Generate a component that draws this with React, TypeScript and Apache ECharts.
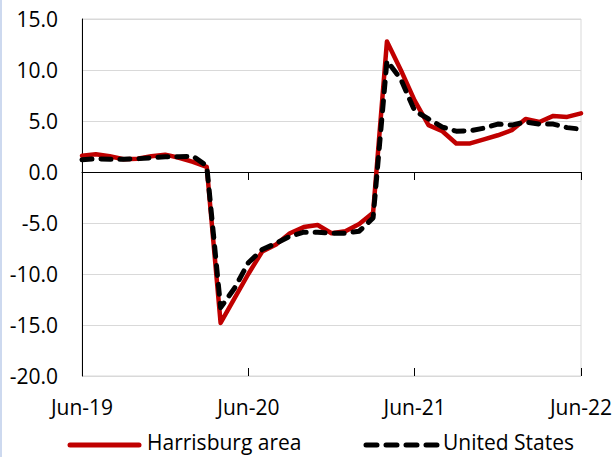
import React, { useEffect, useRef } from "react";
import * as echarts from "echarts";

const months: string[] = [
  "Jun-19", "Jul-19", "Aug-19", "Sep-19", "Oct-19", "Nov-19", "Dec-19",
  "Jan-20", "Feb-20", "Mar-20", "Apr-20", "May-20", "Jun-20", "Jul-20",
  "Aug-20", "Sep-20", "Oct-20", "Nov-20", "Dec-20", "Jan-21", "Feb-21",
  "Mar-21", "Apr-21", "May-21", "Jun-21", "Jul-21", "Aug-21", "Sep-21",
  "Oct-21", "Nov-21", "Dec-21", "Jan-22", "Feb-22", "Mar-22", "Apr-22",
  "May-22", "Jun-22",
];

const harrisburg: number[] = [
  1.6, 1.75, 1.55, 1.25, 1.3, 1.55, 1.7, 1.4, 1.0, 0.5,
  -14.8, -12.4, -10.0, -7.8, -7.1, -6.0, -5.4, -5.2, -6.0, -5.8,
  -5.1, -4.0, 12.8, 10.0, 7.0, 4.6, 4.0, 2.8, 2.8, 3.2,
  3.6, 4.1, 5.2, 4.9, 5.5, 5.4, 5.75,
];

const unitedStates: number[] = [
  1.2, 1.3, 1.25, 1.25, 1.3, 1.4, 1.5, 1.5, 1.55, 0.6,
  -13.3, -11.4, -8.9, -7.6, -7.0, -6.3, -5.9, -5.9, -6.0, -6.0,
  -5.8, -4.5, 10.9, 9.1, 6.0, 5.2, 4.4, 4.0, 4.05, 4.3,
  4.7, 4.6, 4.9, 4.7, 4.7, 4.35, 4.2,
];

const seriesNames: string[] = ["Harrisburg area", "United States"];

const FONT = "'Open Sans', 'Noto Sans', sans-serif";

export default function App() {
  const ref = useRef<HTMLDivElement>(null);

  useEffect(() => {
    if (!ref.current) return;
    const chart = echarts.init(ref.current, undefined, { renderer: "svg" });
    const baseCat = {
      type: "category" as const,
      data: months,
      boundaryGap: false,
      splitLine: { show: false },
    };
    chart.setOption({
      animation: false,
      backgroundColor: "#ffffff",
      grid: {
        left: 82,
        right: 35,
        top: 19,
        bottom: 81,
        show: true,
        borderColor: "#d9d9d9",
        borderWidth: 1,
        backgroundColor: "transparent",
      },
      xAxis: [
        {
          ...baseCat,
          position: "bottom",
          axisLine: { show: true, onZero: true, lineStyle: { color: "#000", width: 1 } },
          axisTick: { show: true, interval: 11, length: 8, lineStyle: { color: "#000", width: 1 } },
          axisLabel: { show: false },
        },
        {
          ...baseCat,
          position: "bottom",
          axisLine: { show: false, onZero: true },
          axisTick: { show: true, inside: true, interval: 11, length: 8, lineStyle: { color: "#000", width: 1 } },
          axisLabel: { show: false },
        },
        {
          ...baseCat,
          position: "bottom",
          axisLine: { show: false, onZero: false },
          axisTick: { show: false },
          axisLabel: {
            show: true,
            interval: 11,
            margin: 20,
            fontSize: 21,
            fontFamily: FONT,
            color: "#000",
          },
        },
      ],
      yAxis: {
        type: "value",
        min: -20,
        max: 15,
        interval: 5,
        axisLine: { show: true, lineStyle: { color: "#000", width: 1 } },
        axisTick: { show: false },
        splitLine: { show: true, lineStyle: { color: "#d9d9d9", width: 1 } },
        axisLabel: {
          margin: 24,
          fontSize: 21,
          fontFamily: FONT,
          color: "#000",
          formatter: (v: number) => v.toFixed(1),
        },
      },
      series: [
        {
          name: seriesNames[0],
          type: "line",
          xAxisIndex: 0,
          data: harrisburg,
          symbol: "none",
          lineStyle: { color: "#c00000", width: 4.5, cap: "round", join: "round" },
          z: 2,
        },
        {
          name: seriesNames[1],
          type: "line",
          xAxisIndex: 0,
          data: unitedStates,
          symbol: "none",
          lineStyle: {
            color: "#000000",
            width: 5,
            type: [10, 9],
            cap: "round",
            join: "round",
          },
          z: 3,
        },
      ],
      graphic: [
        {
          type: "rect",
          shape: { x: 0, y: 0, width: 2, height: 457 },
          style: { fill: "#cdd9ef" },
          silent: true,
        },
        {
          type: "line",
          shape: { x1: 70, y1: 445, x2: 139, y2: 445 },
          style: { stroke: "#c00000", lineWidth: 5, lineCap: "round" },
          silent: true,
        },
        {
          type: "text",
          x: 147,
          y: 442,
          style: {
            text: seriesNames[0],
            fontSize: 21,
            lineHeight: 22,
            fontFamily: FONT,
            fill: "#000",
            verticalAlign: "middle",
          },
          silent: true,
        },
        {
          type: "line",
          shape: { x1: 366, y1: 445, x2: 438, y2: 445 },
          style: { stroke: "#000", lineWidth: 5, lineCap: "round", lineDash: [11, 9] },
          silent: true,
        },
        {
          type: "text",
          x: 443,
          y: 442,
          style: {
            text: seriesNames[1],
            fontSize: 21,
            lineHeight: 22,
            fontFamily: FONT,
            fill: "#000",
            verticalAlign: "middle",
          },
          silent: true,
        },
      ],
    });
    return () => {
      chart.dispose();
    };
  }, []);

  return (
    <div
      ref={ref}
      style={{ position: "fixed", left: 0, top: 0, width: 616, height: 457 }}
    />
  );
}
